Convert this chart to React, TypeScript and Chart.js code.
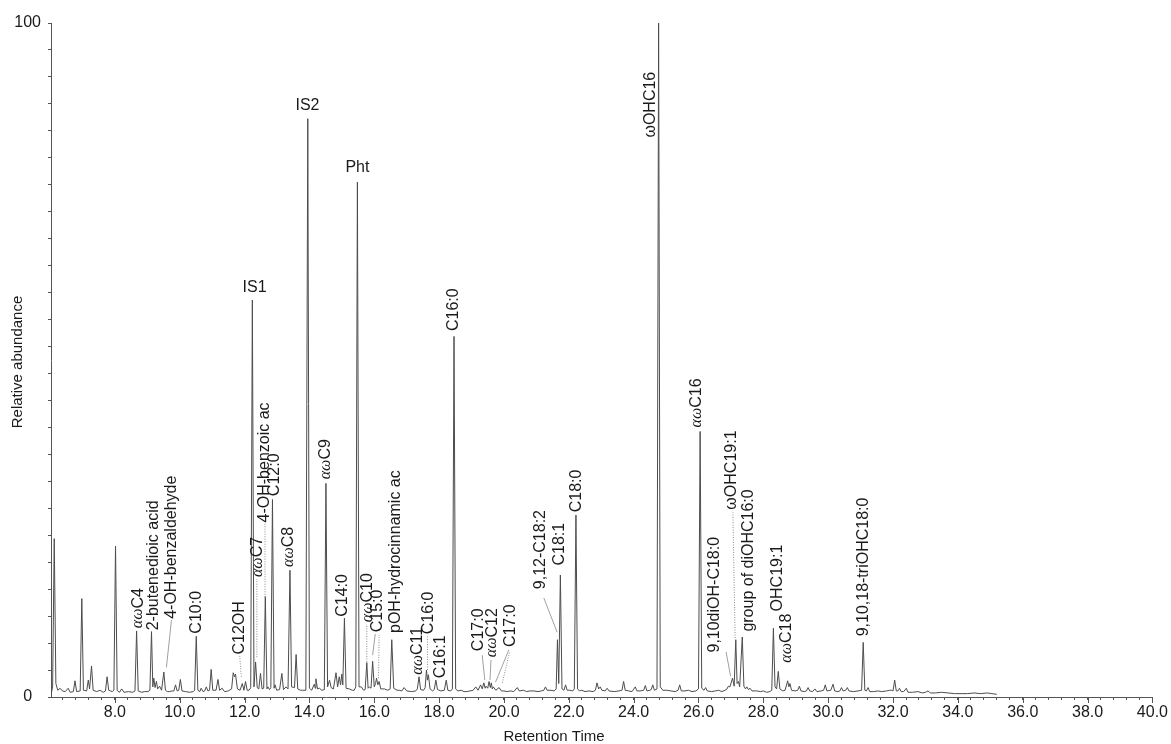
import { useEffect, useRef } from 'react';
import { Chart, registerables } from 'chart.js';

Chart.register(...registerables);

// Chromatogram trace: [retention time (min), relative abundance (%)]
const traceEarly: number[][] = [
  [6.03,0.3],[6.08,1.5],[6.13,23.5],[6.18,2.0],[6.24,1.0],[6.31,1.3],[6.38,0.9],[6.47,0.8],[6.56,1.3],[6.62,0.7],
  [6.72,0.8],[6.77,2.4],[6.82,0.8],[6.93,0.9],[6.98,14.6],[7.03,1.0],[7.13,0.9],[7.18,2.5],[7.22,1.2],[7.28,4.6],
  [7.33,1.0],[7.44,0.8],[7.54,1.0],[7.64,0.7],[7.71,0.9],[7.76,3.0],[7.81,1.0],[7.92,0.8],[7.97,1.0],[8.02,22.4],
  [8.07,1.0],[8.14,0.7],[8.21,1.2],[8.28,0.7],[8.42,0.8],[8.55,0.7],[8.62,0.9],[8.67,9.8],[8.72,0.9],[8.82,0.7],
  [8.92,0.8],[9.02,0.8],[9.08,1.0],[9.13,9.7],[9.17,1.5],[9.20,2.8],[9.24,1.4],[9.28,2.3],[9.32,1.2],[9.38,1.6],
  [9.44,1.0],[9.51,3.7],[9.56,1.0],[9.62,0.8],[9.69,0.8],[9.76,0.9],[9.82,0.9],[9.87,1.8],[9.92,0.9],[9.97,1.0],
  [10.02,2.6],[10.07,0.9],[10.18,0.8],[10.30,0.7],[10.42,0.8],[10.46,1.0],[10.51,9.0],[10.56,1.0],[10.62,0.8],[10.66,1.3],
  [10.72,0.8],[10.77,0.9],[10.82,1.5],[10.87,0.9],[10.92,1.0],[10.97,4.1],[11.02,1.0],[11.12,1.0],[11.18,2.6],[11.23,1.0],
  [11.31,1.3],[11.38,0.8],[11.50,0.9],[11.60,1.2],[11.65,3.6],[11.69,3.0],[11.72,3.4],[11.78,1.2],[11.86,1.0],[11.93,2.0],
  [11.98,1.0],[12.03,2.3],[12.08,1.0],[12.14,1.0],[12.19,1.4],
];

const traceMid: number[][] = [
  [12.24,58.9],[12.29,1.5],[12.34,5.2],[12.39,1.4],[12.44,1.2],[12.49,3.5],[12.54,1.2],[12.59,1.3],[12.64,14.9],[12.69,1.2],
  [12.72,1.5],[12.77,1.1],[12.81,1.4],[12.86,29.3],[12.91,1.3],[12.94,1.8],[12.99,1.0],[13.08,1.1],[13.15,3.5],[13.20,1.1],
  [13.28,1.5],[13.34,1.2],[13.40,18.8],[13.45,1.5],[13.54,1.4],[13.59,6.3],[13.64,1.2],[13.72,1.0],[13.79,1.0],[13.89,1.0],
  [13.95,85.8],[14.00,1.3],[14.07,1.0],[14.15,1.9],[14.18,1.3],[14.20,2.7],[14.25,1.2],[14.31,1.3],[14.38,1.0],[14.46,1.1],
  [14.51,31.7],[14.56,1.5],[14.62,2.5],[14.67,1.4],[14.74,1.2],[14.82,3.6],[14.87,1.5],[14.92,3.0],[14.96,1.8],[15.00,3.4],
  [15.03,1.8],[15.08,11.7],[15.13,1.3],[15.23,1.2],[15.32,1.0],[15.38,1.0],[15.43,1.5],[15.48,76.4],[15.53,1.5],[15.60,1.5],
  [15.67,1.0],[15.72,1.1],[15.77,5.1],[15.81,1.3],[15.85,1.5],[15.90,1.3],[15.95,5.3],[16.00,1.5],[16.04,2.0],[16.07,2.8],
  [16.11,1.8],[16.15,2.3],[16.20,1.2],[16.31,1.2],[16.42,1.0],[16.49,1.2],[16.54,8.5],[16.60,1.3],[16.70,1.0],[16.77,1.0],
  [16.85,0.9],[16.92,1.4],[17.00,0.9],[17.15,0.8],[17.28,0.9],[17.33,1.2],[17.38,3.0],[17.43,1.1],[17.52,1.0],[17.57,1.4],
  [17.61,4.0],[17.64,2.5],[17.67,3.3],[17.72,1.2],[17.80,0.9],[17.85,1.1],[17.90,2.5],[17.95,1.1],[18.05,0.9],[18.16,1.0],
  [18.22,2.5],[18.27,1.0],[18.36,0.9],[18.41,1.2],[18.46,53.5],[18.51,1.2],[18.58,0.9],[18.68,1.0],[18.77,0.8],[18.85,0.8],
  [18.95,0.9],[19.05,1.0],[19.13,1.5],[19.20,1.0],[19.28,1.8],[19.33,1.2],[19.38,2.1],[19.42,1.3],[19.45,1.6],[19.50,1.3],
  [19.54,2.3],[19.58,1.4],[19.61,2.1],[19.64,1.2],[19.67,1.5],[19.75,1.0],[19.85,1.4],[19.92,0.9],[20.00,0.9],[20.10,0.8],
  [20.20,0.9],[20.30,0.8],
];

const traceLate: number[][] = [
  [20.41,1.4],[20.47,0.9],[20.60,1.0],[20.70,0.8],[20.80,0.9],[20.92,0.9],[21.05,0.8],[21.15,0.9],[21.23,1.0],[21.28,1.5],
  [21.33,1.0],[21.45,1.0],[21.55,0.9],[21.61,1.2],[21.65,8.5],[21.69,2.0],[21.74,18.1],[21.79,1.2],[21.85,1.0],[21.90,1.8],
  [21.95,1.0],[22.03,1.0],[22.12,0.9],[22.17,1.2],[22.22,27.0],[22.27,1.2],[22.33,0.9],[22.40,1.0],[22.50,0.8],[22.62,0.9],
  [22.75,0.8],[22.82,1.0],[22.87,2.1],[22.92,1.2],[22.97,1.5],[23.02,1.0],[23.12,0.9],[23.18,1.3],[23.24,0.9],[23.40,0.8],
  [23.55,0.9],[23.64,1.0],[23.69,2.3],[23.74,1.0],[23.85,0.9],[23.95,0.8],[24.05,1.5],[24.10,0.9],[24.20,0.9],[24.31,1.0],
  [24.36,1.7],[24.41,0.9],[24.50,1.0],[24.54,1.1],[24.59,1.8],[24.64,1.0],[24.72,1.2],[24.77,100],[24.82,1.5],[24.90,1.0],
  [25.02,1.0],[25.15,0.9],[25.28,0.8],[25.37,1.0],[25.42,1.8],[25.47,0.9],[25.58,0.9],[25.69,1.0],[25.80,0.8],[25.92,0.9],
  [26.00,1.2],[26.05,39.4],[26.10,1.3],[26.17,1.0],[26.22,1.4],[26.27,0.9],[26.40,0.8],[26.52,0.9],[26.62,1.0],[26.72,0.8],
  [26.82,1.0],[26.88,1.2],[26.92,1.6],[26.97,1.5],[27.05,2.8],[27.10,1.6],[27.15,8.5],[27.19,2.0],[27.23,2.3],[27.27,1.5],
  [27.35,8.9],[27.40,1.6],[27.45,1.2],[27.49,1.5],[27.54,1.1],[27.59,1.3],[27.65,0.9],[27.80,0.9],[27.92,0.8],[28.00,0.9],
  [28.10,0.7],[28.20,0.8],[28.26,1.0],[28.31,10.2],[28.36,1.5],[28.41,1.2],[28.46,3.8],[28.51,1.2],[28.60,0.9],[28.67,1.0],
  [28.75,2.4],[28.79,1.5],[28.82,2.0],[28.87,1.0],[28.98,0.9],[29.06,1.0],[29.11,1.6],[29.16,0.9],[29.26,0.8],[29.33,0.9],
  [29.38,1.4],[29.43,0.9],[29.52,0.8],[29.59,1.2],[29.65,0.8],[29.78,0.9],[29.86,1.0],[29.91,1.8],[29.96,0.9],[30.08,1.0],
  [30.15,1.9],[30.20,0.9],[30.30,0.8],[30.36,0.9],[30.41,1.4],[30.46,0.9],[30.54,1.0],[30.59,1.4],[30.64,0.9],[30.78,0.8],
  [30.92,0.9],[31.03,1.0],[31.08,8.1],[31.13,1.0],[31.18,0.9],[31.23,1.4],[31.28,0.8],[31.40,0.8],[31.54,0.9],[31.65,0.8],
  [31.80,0.9],[31.90,1.0],[31.96,1.0],[32.00,0.9],[32.05,2.5],[32.10,0.9],[32.15,0.9],[32.20,1.3],[32.25,0.8],[32.33,0.8],
  [32.41,1.3],[32.46,0.7],[32.60,0.7],[32.77,0.8],[32.90,0.6],[33.00,0.7],[33.08,0.9],[33.15,0.6],[33.30,0.6],[33.50,0.7],
  [33.70,0.6],[33.90,0.5],[34.10,0.5],[34.30,0.5],[34.50,0.6],[34.70,0.5],[34.90,0.6],[35.05,0.5],[35.20,0.4],
];

// Axis definitions
const xRange = [6.03, 40];
const xMajorTicks = [8, 10, 12, 14, 16, 18, 20, 22, 24, 26, 28, 30, 32, 34, 36, 38, 40];
const yRange = [0, 100];
const yTickLabels = [0, 100];

// Peak annotations: label text, retention time, abundance where the label starts
const peakLabels = [
  { text: 'αωC4', t: 8.72, v: 10.2, horizontal: false },
  { text: '2-butenedioic acid', t: 9.18, v: 9.9, horizontal: false },
  { text: '4-OH-benzaldehyde', t: 9.75, v: 11.6, horizontal: false },
  { text: 'C10:0', t: 10.51, v: 9.4, horizontal: false },
  { text: 'C12OH', t: 11.85, v: 6.3, horizontal: false },
  { text: 'IS1', t: 12.31, v: 60.8, horizontal: true },
  { text: 'αωC7', t: 12.41, v: 17.8, horizontal: false },
  { text: '4-OH-benzoic ac', t: 12.62, v: 25.9, horizontal: false },
  { text: 'C12:0', t: 12.92, v: 29.8, horizontal: false },
  { text: 'αωC8', t: 13.37, v: 19.3, horizontal: false },
  { text: 'IS2', t: 13.94, v: 87.8, horizontal: true },
  { text: 'αωC9', t: 14.49, v: 32.3, horizontal: false },
  { text: 'C14:0', t: 15.03, v: 11.9, horizontal: false },
  { text: 'Pht', t: 15.48, v: 78.5, horizontal: true },
  { text: 'αωC10', t: 15.79, v: 11.1, horizontal: false },
  { text: 'C15:0', t: 16.10, v: 9.6, horizontal: false },
  { text: 'pOH-hydrocinnamic ac', t: 16.65, v: 9.5, horizontal: false },
  { text: 'αωC11', t: 17.33, v: 3.3, horizontal: false },
  { text: 'C16:0', t: 17.69, v: 9.3, horizontal: false },
  { text: 'C16:1', t: 18.06, v: 2.8, horizontal: false },
  { text: 'C16:0', t: 18.46, v: 54.3, horizontal: false },
  { text: 'C17:0', t: 19.23, v: 6.8, horizontal: false },
  { text: 'αωC12', t: 19.64, v: 5.9, horizontal: false },
  { text: 'C17:0', t: 20.21, v: 7.4, horizontal: false },
  { text: '9,12-C18:2', t: 21.13, v: 16.0, horizontal: false },
  { text: 'C18:1', t: 21.71, v: 19.5, horizontal: false },
  { text: 'C18:0', t: 22.24, v: 27.4, horizontal: false },
  { text: 'ωOHC16', t: 24.52, v: 83.0, horizontal: false },
  { text: 'αωC16', t: 25.94, v: 40.0, horizontal: false },
  { text: '9,10diOH-C18:0', t: 26.51, v: 6.6, horizontal: false },
  { text: 'ωOHC19:1', t: 27.02, v: 27.8, horizontal: false },
  { text: 'group of diOHC16:0', t: 27.54, v: 9.7, horizontal: false },
  { text: 'OHC19:1', t: 28.43, v: 12.7, horizontal: false },
  { text: 'αωC18', t: 28.72, v: 5.1, horizontal: false },
  { text: '9,10,18-triOHC18:0', t: 31.08, v: 9.0, horizontal: false },
];

// Leader lines joining labels to their peaks: [t1, v1, t2, v2]
const solidLeaders = [
  [9.59, 4.4, 9.745, 11.4],
  [15.95, 6.2, 16.03, 9.35],
  [19.41, 2.5, 19.33, 6.2],
  [19.57, 2.5, 19.60, 5.5],
  [19.74, 2.2, 20.15, 7.0],
  [21.64, 9.6, 21.23, 14.7],
  [26.99, 3.1, 26.85, 6.7],
];
const dottedLeaders = [
  [11.90, 3.0, 11.85, 6.1],
  [12.38, 5.9, 12.38, 17.5],
  [12.63, 14.8, 12.63, 25.7],
  [15.77, 5.2, 15.77, 10.8],
  [16.13, 2.8, 16.15, 9.2],
  [17.64, 4.0, 17.64, 9.05],
  [19.95, 2.1, 20.18, 6.8],
  [27.13, 8.75, 27.06, 27.4],
];

const SANS = '"Liberation Sans", Arial, sans-serif';
const LABEL_SIZE = 16;

export default function App() {
  const canvasRef = useRef<HTMLCanvasElement | null>(null);

  useEffect(() => {
    document.body.style.margin = '0';
    const canvas = canvasRef.current;
    if (!canvas) return;

    const points = [...traceEarly, ...traceMid, ...traceLate].map(([x, y]) => ({ x, y }));

    const annotate = {
      id: 'annotate',
      afterDatasetsDraw(chart: any) {
        const { ctx, chartArea } = chart;
        const xs = chart.scales.x;
        const ys = chart.scales.y;
        ctx.save();
        // leaders
        ctx.lineWidth = 1;
        ctx.strokeStyle = '#a0a0a0';
        ctx.setLineDash([]);
        for (const [t1, v1, t2, v2] of solidLeaders) {
          ctx.beginPath();
          ctx.moveTo(xs.getPixelForValue(t1), ys.getPixelForValue(v1));
          ctx.lineTo(xs.getPixelForValue(t2), ys.getPixelForValue(v2));
          ctx.stroke();
        }
        ctx.strokeStyle = '#8a8a8a';
        ctx.setLineDash([1, 1.5]);
        for (const [t1, v1, t2, v2] of dottedLeaders) {
          ctx.beginPath();
          ctx.moveTo(xs.getPixelForValue(t1), ys.getPixelForValue(v1));
          ctx.lineTo(xs.getPixelForValue(t2), ys.getPixelForValue(v2));
          ctx.stroke();
        }
        ctx.setLineDash([]);

        // labels
        ctx.fillStyle = '#1a1a1a';
        for (const lab of peakLabels) {
          const px = xs.getPixelForValue(lab.t);
          const py = ys.getPixelForValue(lab.v);
          ctx.save();
          ctx.translate(px, py);
          if (lab.horizontal) {
            ctx.font = `${LABEL_SIZE}px ${SANS}`;
            ctx.textAlign = 'center';
            ctx.textBaseline = 'middle';
            ctx.fillText(lab.text, 0, 0);
          } else {
            ctx.rotate(-Math.PI / 2);
            ctx.textAlign = 'left';
            ctx.textBaseline = 'middle';
            let cursor = 0;
            let rest = lab.text;
            if (rest.startsWith('αω')) {
              ctx.font = `italic ${LABEL_SIZE}px "Liberation Serif", "Times New Roman", serif`;
              ctx.fillText('αω', 0, 0);
              cursor += ctx.measureText('αω').width;
              rest = rest.slice(2);
            }
            ctx.font = `${LABEL_SIZE}px ${SANS}`;
            ctx.fillText(rest, cursor, 0);
          }
          ctx.restore();
        }

        // major x ticks (longer)
        ctx.strokeStyle = '#555';
        ctx.lineWidth = 1;
        for (const v of xMajorTicks) {
          const px = Math.round(xs.getPixelForValue(v)) + 0.5;
          ctx.beginPath();
          ctx.moveTo(px, chartArea.bottom);
          ctx.lineTo(px, chartArea.bottom + 6);
          ctx.stroke();
        }

        // axis titles
        ctx.fillStyle = '#1a1a1a';
        ctx.font = `15px ${SANS}`;
        ctx.textAlign = 'center';
        ctx.textBaseline = 'middle';
        ctx.fillText('Retention Time', chartArea.left + 503, chartArea.bottom + 40);
        ctx.save();
        ctx.translate(18, (chartArea.top + chartArea.bottom) / 2 + 2);
        ctx.rotate(-Math.PI / 2);
        ctx.fillText('Relative abundance', 0, 0);
        ctx.restore();
        ctx.restore();
      },
    };

    const chart = new Chart(canvas, {
      type: 'line',
      data: {
        datasets: [
          {
            data: points,
            borderColor: '#4d4d4d',
            borderWidth: 1,
            pointRadius: 0,
            tension: 0,
            fill: false,
          },
        ],
      },
      options: {
        animation: false,
        responsive: false,
        maintainAspectRatio: false,
        events: [],
        layout: { padding: { top: 23, right: 16, left: 0, bottom: 0 } },
        plugins: { legend: { display: false }, tooltip: { enabled: false }, title: { display: false } },
        scales: {
          x: {
            type: 'linear',
            min: xRange[0],
            max: xRange[1],
            afterFit: (s: any) => { s.height = 47; },
            grid: { drawOnChartArea: false, drawTicks: true, tickLength: 3, color: '#555', tickColor: '#555' },
            border: { display: true, color: '#555', width: 1 },
            ticks: {
              stepSize: 0.4,
              includeBounds: false,
              autoSkip: false,
              maxRotation: 0,
              minRotation: 0,
              padding: 3,
              color: '#1a1a1a',
              font: { family: SANS, size: 16 },
              callback: (value: any) => {
                const n = Number(value);
                return xMajorTicks.some((m) => Math.abs(m - n) < 1e-6) ? n.toFixed(1) : '';
              },
            },
          },
          y: {
            type: 'linear',
            min: yRange[0],
            max: yRange[1],
            afterFit: (s: any) => { s.width = 51; },
            grid: { drawOnChartArea: false, drawTicks: true, tickLength: 3, color: '#555', tickColor: '#555' },
            border: { display: true, color: '#555', width: 1 },
            ticks: {
              stepSize: 4,
              autoSkip: false,
              padding: 7,
              crossAlign: 'center',
              color: '#1a1a1a',
              font: { family: SANS, size: 16 },
              callback: (value: any) => {
                const n = Number(value);
                return yTickLabels.includes(n) ? String(n) : '';
              },
            },
          },
        },
      },
      plugins: [annotate],
    } as any);

    return () => chart.destroy();
  }, []);

  return (
    <div style={{ position: 'fixed', left: 0, top: 0, width: 1171, height: 744, background: '#fff' }}>
      <canvas ref={canvasRef} width={1171} height={744} style={{ width: 1171, height: 744, display: 'block' }} />
    </div>
  );
}
